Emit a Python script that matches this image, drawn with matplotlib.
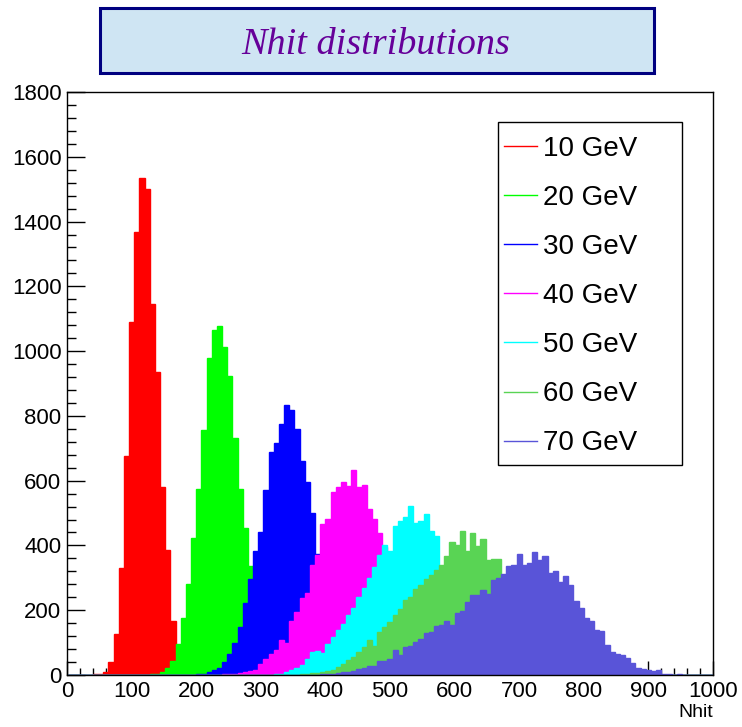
import matplotlib.pyplot as plt
import numpy as np
from matplotlib.lines import Line2D
from matplotlib.patches import Rectangle
from matplotlib.ticker import MultipleLocator

# 125 bins of width 8 over 0..1000
edges = np.arange(0, 1001, 8)

# (first bin low edge, bin contents) for each beam energy
start_10 = 40
nhit_10 = [2, 2, 10, 39, 126, 330, 677, 1090, 1368, 1536, 1499, 1146, 937, 580,
           386, 168, 80, 35, 14, 5, 2]

start_20 = 128
nhit_20 = [2, 4, 9, 23, 42, 96, 176, 281, 422, 574, 757, 979, 1064, 1076, 1012,
           922, 731, 575, 454, 335, 230, 150, 95, 55, 30, 16, 8, 4, 2]

start_30 = 200
nhit_30 = [2, 4, 9, 14, 23, 40, 65, 100, 147, 221, 295, 382, 443, 571, 689, 717,
           775, 834, 818, 761, 660, 596, 500, 375, 260, 180, 120, 75, 45, 25, 14,
           7, 4, 2]

start_40 = 240
nhit_40 = [2, 3, 4, 6, 8, 11, 16, 33, 50, 64, 78, 109, 100, 168, 196, 238, 253,
           341, 371, 466, 482, 564, 580, 596, 582, 634, 580, 588, 514, 483, 437,
           395, 330, 250, 185, 130, 90, 60, 38, 22, 13, 7, 4, 2]

start_50 = 320
nhit_50 = [2, 4, 8, 14, 23, 30, 50, 70, 75, 68, 96, 117, 140, 157, 186, 207, 240,
           270, 300, 333, 371, 402, 382, 461, 474, 488, 521, 469, 474, 497, 444,
           428, 320, 250, 185, 130, 90, 60, 38, 22, 12, 6, 3, 1]

start_60 = 360
nhit_60 = [2, 3, 5, 7, 9, 12, 16, 25, 35, 45, 55, 70, 85, 107, 89, 134, 147, 165,
           184, 205, 233, 240, 266, 279, 296, 308, 325, 340, 367, 410, 401, 446,
           384, 438, 399, 421, 356, 359, 359, 300, 260, 210, 170, 130, 95, 70, 50,
           34, 22, 14, 8, 5, 3, 2, 1]

start_70 = 392
nhit_70 = [2, 3, 4, 6, 8, 10, 13, 17, 22, 29, 27, 44, 42, 49, 78, 62, 85, 88, 101,
           112, 129, 132, 152, 155, 168, 153, 191, 198, 224, 246, 246, 261, 251,
           294, 301, 313, 335, 341, 375, 341, 346, 380, 354, 366, 314, 320, 287,
           306, 279, 227, 207, 176, 168, 140, 137, 93, 70, 64, 62, 54, 37, 21, 19,
           14, 11, 15, 2, 2, 0, 3, 1]

labels = ['10 GeV', '20 GeV', '30 GeV', '40 GeV', '50 GeV', '60 GeV', '70 GeV']
colors = ['#ff0000', '#00ff00', '#0000ff', '#ff00ff', '#00ffff', '#59d454', '#5954d8']
starts = [start_10, start_20, start_30, start_40, start_50, start_60, start_70]
series = [nhit_10, nhit_20, nhit_30, nhit_40, nhit_50, nhit_60, nhit_70]


def to_hist(start, values):
    h = np.zeros(len(edges) - 1)
    i = start // 8
    h[i:i + len(values)] = values
    return h


plt.rcParams['font.family'] = 'Liberation Sans'

W, H = 742, 727
fig = plt.figure(figsize=(W / 100, H / 100), dpi=100)
ax = fig.add_axes([67 / W, 52 / H, 646 / W, 583 / H])
ax.set_axisbelow(True)

for start, vals, c in zip(starts, series, colors):
    ax.stairs(to_hist(start, vals), edges, fill=True,
              facecolor=c, edgecolor=c, linewidth=1)

ax.set_xlim(0, 1000)
ax.set_ylim(0, 1800)
ax.xaxis.set_major_locator(MultipleLocator(100))
ax.xaxis.set_minor_locator(MultipleLocator(20))
ax.yaxis.set_major_locator(MultipleLocator(200))
ax.yaxis.set_minor_locator(MultipleLocator(40))
ax.tick_params(axis='x', which='major', direction='in', length=10, width=1,
               labelsize=16, pad=4)
ax.tick_params(axis='x', which='minor', direction='in', length=5, width=1)
ax.tick_params(axis='y', which='major', direction='in', length=13, width=1,
               labelsize=16, pad=4)
ax.tick_params(axis='y', which='minor', direction='in', length=6.5, width=1)
for s in ax.spines.values():
    s.set_color('black')
    s.set_linewidth(1)

ax.text(1.0, -0.05, 'Nhit', transform=ax.transAxes, ha='right', va='top',
        fontsize=14)

# legend box with the entries placed inside it
ax.add_patch(Rectangle((498 / W, 1 - 465 / H), 184 / W, 343 / H,
                       transform=fig.transFigure, facecolor='white',
                       edgecolor='black', linewidth=1, zorder=4, clip_on=False))
handles = [Line2D([], [], color=c, lw=1) for c in colors]
leg = ax.legend(handles, labels, loc='upper left', frameon=False,
                bbox_to_anchor=(504 / W, 1 - 136 / H),
                bbox_transform=fig.transFigure, borderaxespad=0, borderpad=0,
                handlelength=1.19, handletextpad=0.22, labelspacing=0.83,
                fontsize=20)
leg.set_zorder(5)

# title box
fig.patches.append(Rectangle((100 / W, 1 - 73 / H), 554 / W, 65 / H,
                             transform=fig.transFigure, facecolor='#cfe5f3',
                             edgecolor='#000080', linewidth=2.2))
fig.text(376 / W, 1 - 45 / H, 'Nhit distributions', ha='center', va='center',
         fontsize=27.5, style='italic', family='Liberation Serif', color='#660099')

fig.savefig('out.png', dpi=100)
